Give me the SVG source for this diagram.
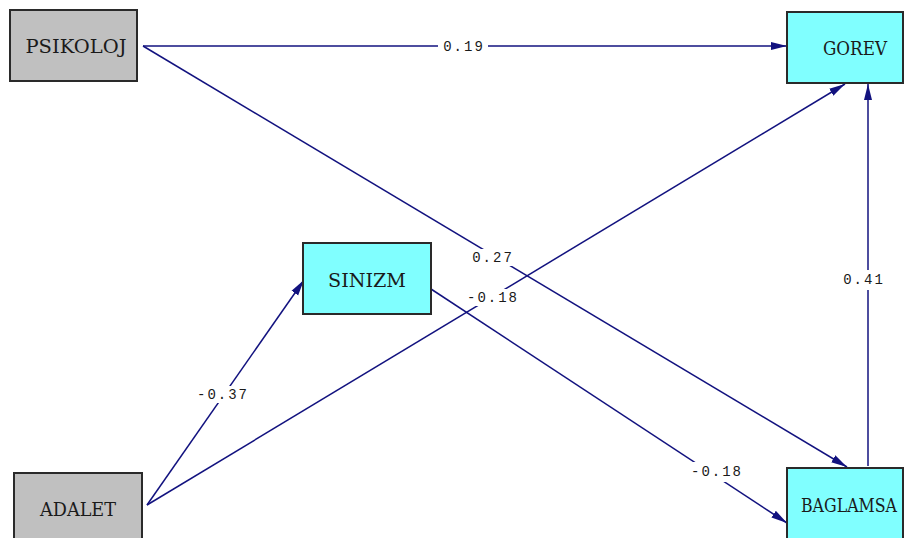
<svg xmlns="http://www.w3.org/2000/svg" width="905" height="538" viewBox="0 0 905 538">
<style>
.box{stroke:#2a2a2a;stroke-width:2}
.obs{fill:#c0c0c0}
.lat{fill:#80ffff}
.nl{font-family:"DejaVu Serif","Liberation Serif",serif;font-size:19px;fill:#1a1a1a;text-anchor:middle;dominant-baseline:central}
.e{stroke:#12127f;stroke-width:1.5;fill:none;marker-end:url(#ah)}
.el{font-family:"Liberation Mono",monospace;font-size:14px;letter-spacing:2px;fill:#1a1a1a;text-anchor:middle;dominant-baseline:central}
.bg{fill:#fff}
</style>
<defs>
<marker id="ah" viewBox="0 0 16 10" refX="16" refY="5" markerWidth="16" markerHeight="10" markerUnits="userSpaceOnUse" orient="auto">
<path d="M0,1 L16,5 L0,9 Z" fill="#12127f"/>
</marker>
</defs>
<rect width="905" height="538" fill="#fff"/>
<g id="connectors">
<line class="e" x1="143" y1="46" x2="787" y2="46"/>
<line class="e" x1="143" y1="46" x2="847" y2="467"/>
<line class="e" x1="147" y1="505" x2="304" y2="280"/>
<line class="e" x1="147" y1="505" x2="845" y2="84"/>
<line class="e" x1="431" y1="289" x2="787" y2="523"/>
<line class="e" x1="868" y1="466" x2="868" y2="84"/>
<rect class="bg" x="438" y="38" width="50" height="17"/>
<text class="el" x="464" y="47">0.19</text>
<rect class="bg" x="466" y="249" width="52" height="17"/>
<text class="el" x="493" y="258">0.27</text>
<rect class="bg" x="462" y="289" width="60" height="17"/>
<text class="el" x="493" y="298">-0.18</text>
<rect class="bg" x="193" y="386" width="60" height="17"/>
<text class="el" x="223" y="395">-0.37</text>
<rect class="bg" x="686" y="462" width="62" height="20"/>
<text class="el" x="717" y="472">-0.18</text>
<rect class="bg" x="838" y="270" width="50" height="20"/>
<text class="el" x="864" y="280">0.41</text>
</g>
<g id="PSIKOLOJ">
<rect class="box obs" x="10" y="10" width="127" height="71"/>
<text class="nl" x="76" y="46" textLength="101" lengthAdjust="spacingAndGlyphs">PSIKOLOJ</text>
</g>
<g id="GOREV">
<rect class="box lat" x="787" y="12" width="116" height="71"/>
<text class="nl" x="855" y="48" textLength="64" lengthAdjust="spacingAndGlyphs">GOREV</text>
</g>
<g id="SINIZM">
<rect class="box lat" x="303" y="243" width="128" height="71"/>
<text class="nl" x="367" y="280" textLength="78" lengthAdjust="spacingAndGlyphs">SINIZM</text>
</g>
<g id="ADALET">
<rect class="box obs" x="14" y="473" width="128" height="71"/>
<text class="nl" x="78" y="509" textLength="76" lengthAdjust="spacingAndGlyphs">ADALET</text>
</g>
<g id="BAGLAMSA">
<rect class="box lat" x="787" y="468" width="116" height="76"/>
<text class="nl" x="849" y="505" textLength="96" lengthAdjust="spacingAndGlyphs">BAGLAMSA</text>
</g>
</svg>
